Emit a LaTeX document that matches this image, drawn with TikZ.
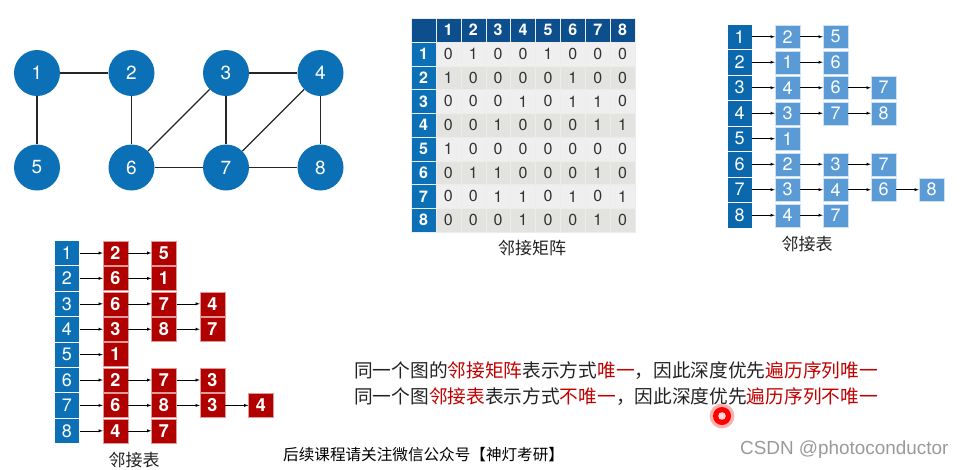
\documentclass[tikz,border=0pt]{standalone}
\usepackage{fontspec}
\setmainfont{TeX Gyre Heros}
\newfontfamily\cjk{Noto Sans CJK SC}
\newfontfamily\wmfont{Liberation Sans}
\usetikzlibrary{arrows,positioning}

\definecolor{vblue}{HTML}{0B70B5}
\definecolor{hdark}{HTML}{0D4E8C}
\definecolor{lhead}{HTML}{0B68AC}
\definecolor{lcell}{HTML}{5B9BD5}
\definecolor{rcell}{HTML}{B00000}
\definecolor{rowa}{HTML}{EFEFEF}
\definecolor{rowb}{HTML}{E3E3DF}
\definecolor{dred}{HTML}{C00000}
\definecolor{txt}{HTML}{222222}

\tikzset{
  vertex/.style={circle,fill=vblue,minimum size=46pt,inner sep=0pt,text=white,font=\fontsize{19}{19}\selectfont},
  link/.style={line width=1.2pt,black!85},
  mcell/.style={minimum width=24.9pt,minimum height=23.75pt,inner sep=0pt,draw=white!85!gray,line width=0.4pt,text=black!80,font=\fontsize{16}{16}\selectfont},
  mhead/.style={mcell,text=white,font=\bfseries\fontsize{16}{16}\selectfont},
  headcell/.style={minimum width=25pt,minimum height=25.45pt,inner sep=0pt,draw=white,line width=0.6pt,text=white,font=\fontsize{18}{18}\selectfont},
  bluebox/.style={fill=lcell,draw=white!70!lcell,minimum width=25pt,minimum height=23pt,inner sep=0pt,text=white,font=\fontsize{18}{18}\selectfont},
  redbox/.style={fill=rcell,draw=white!60!rcell,minimum width=25pt,minimum height=24pt,inner sep=0pt,text=white,font=\bfseries\fontsize{18}{18}\selectfont},
  caption/.style={font=\cjk\fontsize{17}{17}\selectfont,text=txt},
  remark/.style={anchor=west,inner sep=0pt,text=txt,font=\cjk\fontsize{18.7}{18.7}\selectfont}
}

\begin{document}
\begin{tikzpicture}[x=1pt,y=-1pt,->,>=latex]
  \useasboundingbox (0,0) rectangle (964,469);

  % the graph
  \begin{scope}[-,node distance=94.5pt]
    \node[vertex] (v1) at (37,73) {1};
    \node[vertex] (v2) [right of=v1] {2};
    \node[vertex] (v3) [right of=v2] {3};
    \node[vertex] (v4) [right of=v3] {4};
    \node[vertex] (v5) [below of=v1] {5};
    \node[vertex] (v6) [below of=v2] {6};
    \node[vertex] (v7) [below of=v3] {7};
    \node[vertex] (v8) [below of=v4] {8};
    \draw[link] (v1) -- (v2);
    \draw[link] (v1) -- (v5);
    \draw[link] (v2) -- (v6);
    \draw[link] (v3) -- (v4);
    \draw[link] (v3) -- (v6);
    \draw[link] (v3) -- (v7);
    \draw[link] (v4) -- (v7);
    \draw[link] (v4) -- (v8);
    \draw[link] (v6) -- (v7);
    \draw[link] (v7) -- (v8);
  \end{scope}

  % adjacency matrix
  \node[mhead,fill=hdark,minimum height=24pt] (m0-0) at (423.45,30) {};
  \foreach \c in {1,...,8}
    \node[mhead,fill=hdark,minimum height=24pt] (m0-\c) at ({423.45+24.9*\c},30) {\c};
  \foreach \row [count=\i] in {{0,1,0,0,1,0,0,0},{1,0,0,0,0,1,0,0},{0,0,0,1,0,1,1,0},{0,0,1,0,0,0,1,1},
                               {1,0,0,0,0,0,0,0},{0,1,1,0,0,0,1,0},{0,0,1,1,0,1,0,1},{0,0,0,1,0,0,1,0}} {
    \ifodd\i \def\rowfill{rowa}\else\def\rowfill{rowb}\fi
    \node[mhead,fill=vblue] (m\i-0) at (423.45,{42+23.75*(\i-0.5)}) {\i};
    \foreach \v [count=\j] in \row
      \node[mcell,fill=\rowfill] (m\i-\j) at ({423.45+24.9*\j},{42+23.75*(\i-0.5)}) {\v};
  }
  \node[caption] (capm) at (532,248) {邻接矩阵};

  % adjacency list, right
  \begin{scope}[node distance=48pt]
    \foreach \i/\lst in {1/{2,5},2/{1,6},3/{4,6,7},4/{3,7,8},5/{1},6/{2,3,7},7/{3,4,6,8},8/{4,7}} {
      \node[headcell,fill=lhead] (b\i-0) at (739.5,{36.7+25.5*(\i-1)}) {\i};
      \foreach \v [count=\k, remember=\k as \p (initially 0)] in \lst {
        \node[bluebox] (b\i-\k) [right of=b\i-\p] {\v};
        \draw[line width=0.5pt] (b\i-\p) -- (b\i-\k);
      }
    }
  \end{scope}
  \node[caption] (capb) at (807,244) {邻接表};

  % adjacency list, left
  \begin{scope}[node distance=48.5pt]
    \foreach \i/\lst in {1/{2,5},2/{6,1},3/{6,7,4},4/{3,8,7},5/{1},6/{2,7,3},7/{6,8,3,4},8/{4,7}} {
      \node[headcell,fill=vblue] (a\i-0) at (67,{253+25.4*(\i-1)}) {\i};
      \foreach \v [count=\k, remember=\k as \p (initially 0)] in \lst {
        \node[redbox] (a\i-\k) [right of=a\i-\p] {\v};
        \draw[line width=0.5pt] (a\i-\p) -- (a\i-\k);
      }
    }
  \end{scope}
  \node[caption] (capa) at (134,460) {邻接表};

  % remarks
  \node[remark] (line1) at (354,371) {同一个图的\textcolor{dred}{邻接矩阵}表示方式\textcolor{dred}{唯一}，因此深度优先\textcolor{dred}{遍历序列唯一}};
  \node[remark] (line2) at (354,397) {同一个图\textcolor{dred}{邻接表}表示方式\textcolor{dred}{不唯一}，因此深度优先\textcolor{dred}{遍历序列不唯一}};
  \node[remark,font=\cjk\fontsize{15.6}{15.6}\selectfont,text=black] (notice) at (283,455) {后续课程请关注微信公众号【神灯考研】};
  \node[anchor=west,inner sep=0pt,text=black!40,font=\wmfont\fontsize{18.9}{18.9}\selectfont] (mark) at (740,450) {CSDN @photoconductor};

  % pointer
  \fill[red,opacity=0.3] (722,416) circle (12.5);
  \fill[red] (722,416) circle (9);
  \fill[white!85!red] (722,416) circle (3.8);
\end{tikzpicture}
\end{document}
